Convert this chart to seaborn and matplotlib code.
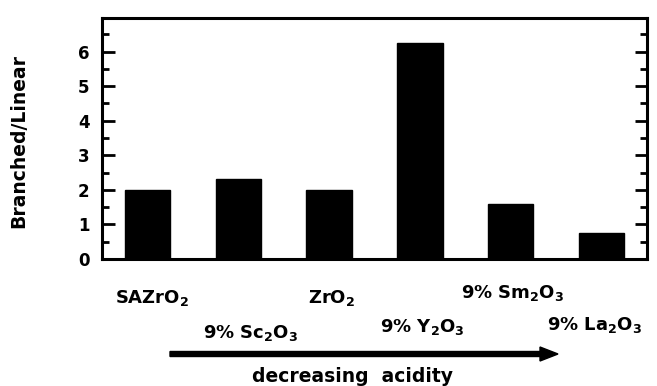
import matplotlib
matplotlib.use("Agg")
import matplotlib.pyplot as plt
from matplotlib.ticker import MultipleLocator
from matplotlib.patches import FancyArrow
import seaborn as sns
import pandas as pd

categories = ["SAZrO$_2$", "9% Sc$_2$O$_3$", "ZrO$_2$", "9% Y$_2$O$_3$", "9% Sm$_2$O$_3$", "9% La$_2$O$_3$"]
values = [2.0, 2.3, 2.0, 6.25, 1.6, 0.75]
yticks = [0, 1, 2, 3, 4, 5, 6]
xlabel_text = "decreasing  acidity"
ylabel_text = "Branched/Linear"

sns.set_style("white")
plt.rcParams['font.family'] = ['DejaVu Sans']
plt.rcParams['mathtext.fontset'] = 'dejavusans'
plt.rcParams['mathtext.default'] = 'bf'
for k in ['text.color', 'axes.labelcolor', 'xtick.color', 'ytick.color']:
    plt.rcParams[k] = 'black'

df = pd.DataFrame({"cat": categories, "val": values})

fig = plt.figure(figsize=(6.57, 3.86), dpi=100)
ax = fig.add_axes([102/657, 1 - 259/386, 545/657, 241/386])
sns.barplot(data=df, x="cat", y="val", color="black", width=0.5, ax=ax,
            saturation=1, edgecolor="black")
ax.set_xlim(-0.5, 5.5)
ax.set_ylim(0, 6.97)
ax.set_yticks(yticks)
ax.set_yticklabels([str(t) for t in yticks], fontweight="bold", fontsize=12)
ax.yaxis.set_minor_locator(MultipleLocator(0.5))
ax.tick_params(axis="y", which="major", direction="in", length=9, width=2,
               left=True, right=True, pad=9, colors="black")
ax.tick_params(axis="y", which="minor", direction="in", length=5, width=2,
               left=True, right=True, colors="black")
ax.set_xticks([])
ax.set_xlabel("")
ax.set_ylabel(ylabel_text, fontweight="bold", fontsize=13.5, color="black")
ax.yaxis.set_label_coords(-0.135, 0.49)
for s in ax.spines.values():
    s.set_linewidth(2.2)
    s.set_color("black")

# staggered category labels (offsets in points, baseline-anchored)
offsets = [(3, -31.7), (9, -56.9), (1.5, -31.7), (2, -52.6), (1, -28.1), (-5, -51.1)]
for i, (lab, off) in enumerate(zip(categories, offsets)):
    ax.annotate(lab, xy=(i, 0), xytext=off, textcoords="offset points",
                ha="center", va="baseline", fontsize=13, fontweight="bold",
                color="black", annotation_clip=False)

# arrow and caption
fig.patches.append(FancyArrow(
    170/657, 1 - 354/386, (558 - 170)/657, 0, width=5/386, head_width=14/386,
    head_length=18/657, length_includes_head=True, color="black",
    transform=fig.transFigure, figure=fig))
fig.text(353/657, 1 - 382/386, xlabel_text, ha="center", va="baseline",
         fontsize=13.5, fontweight="bold", color="black")

fig.savefig("out.png", dpi=100)
